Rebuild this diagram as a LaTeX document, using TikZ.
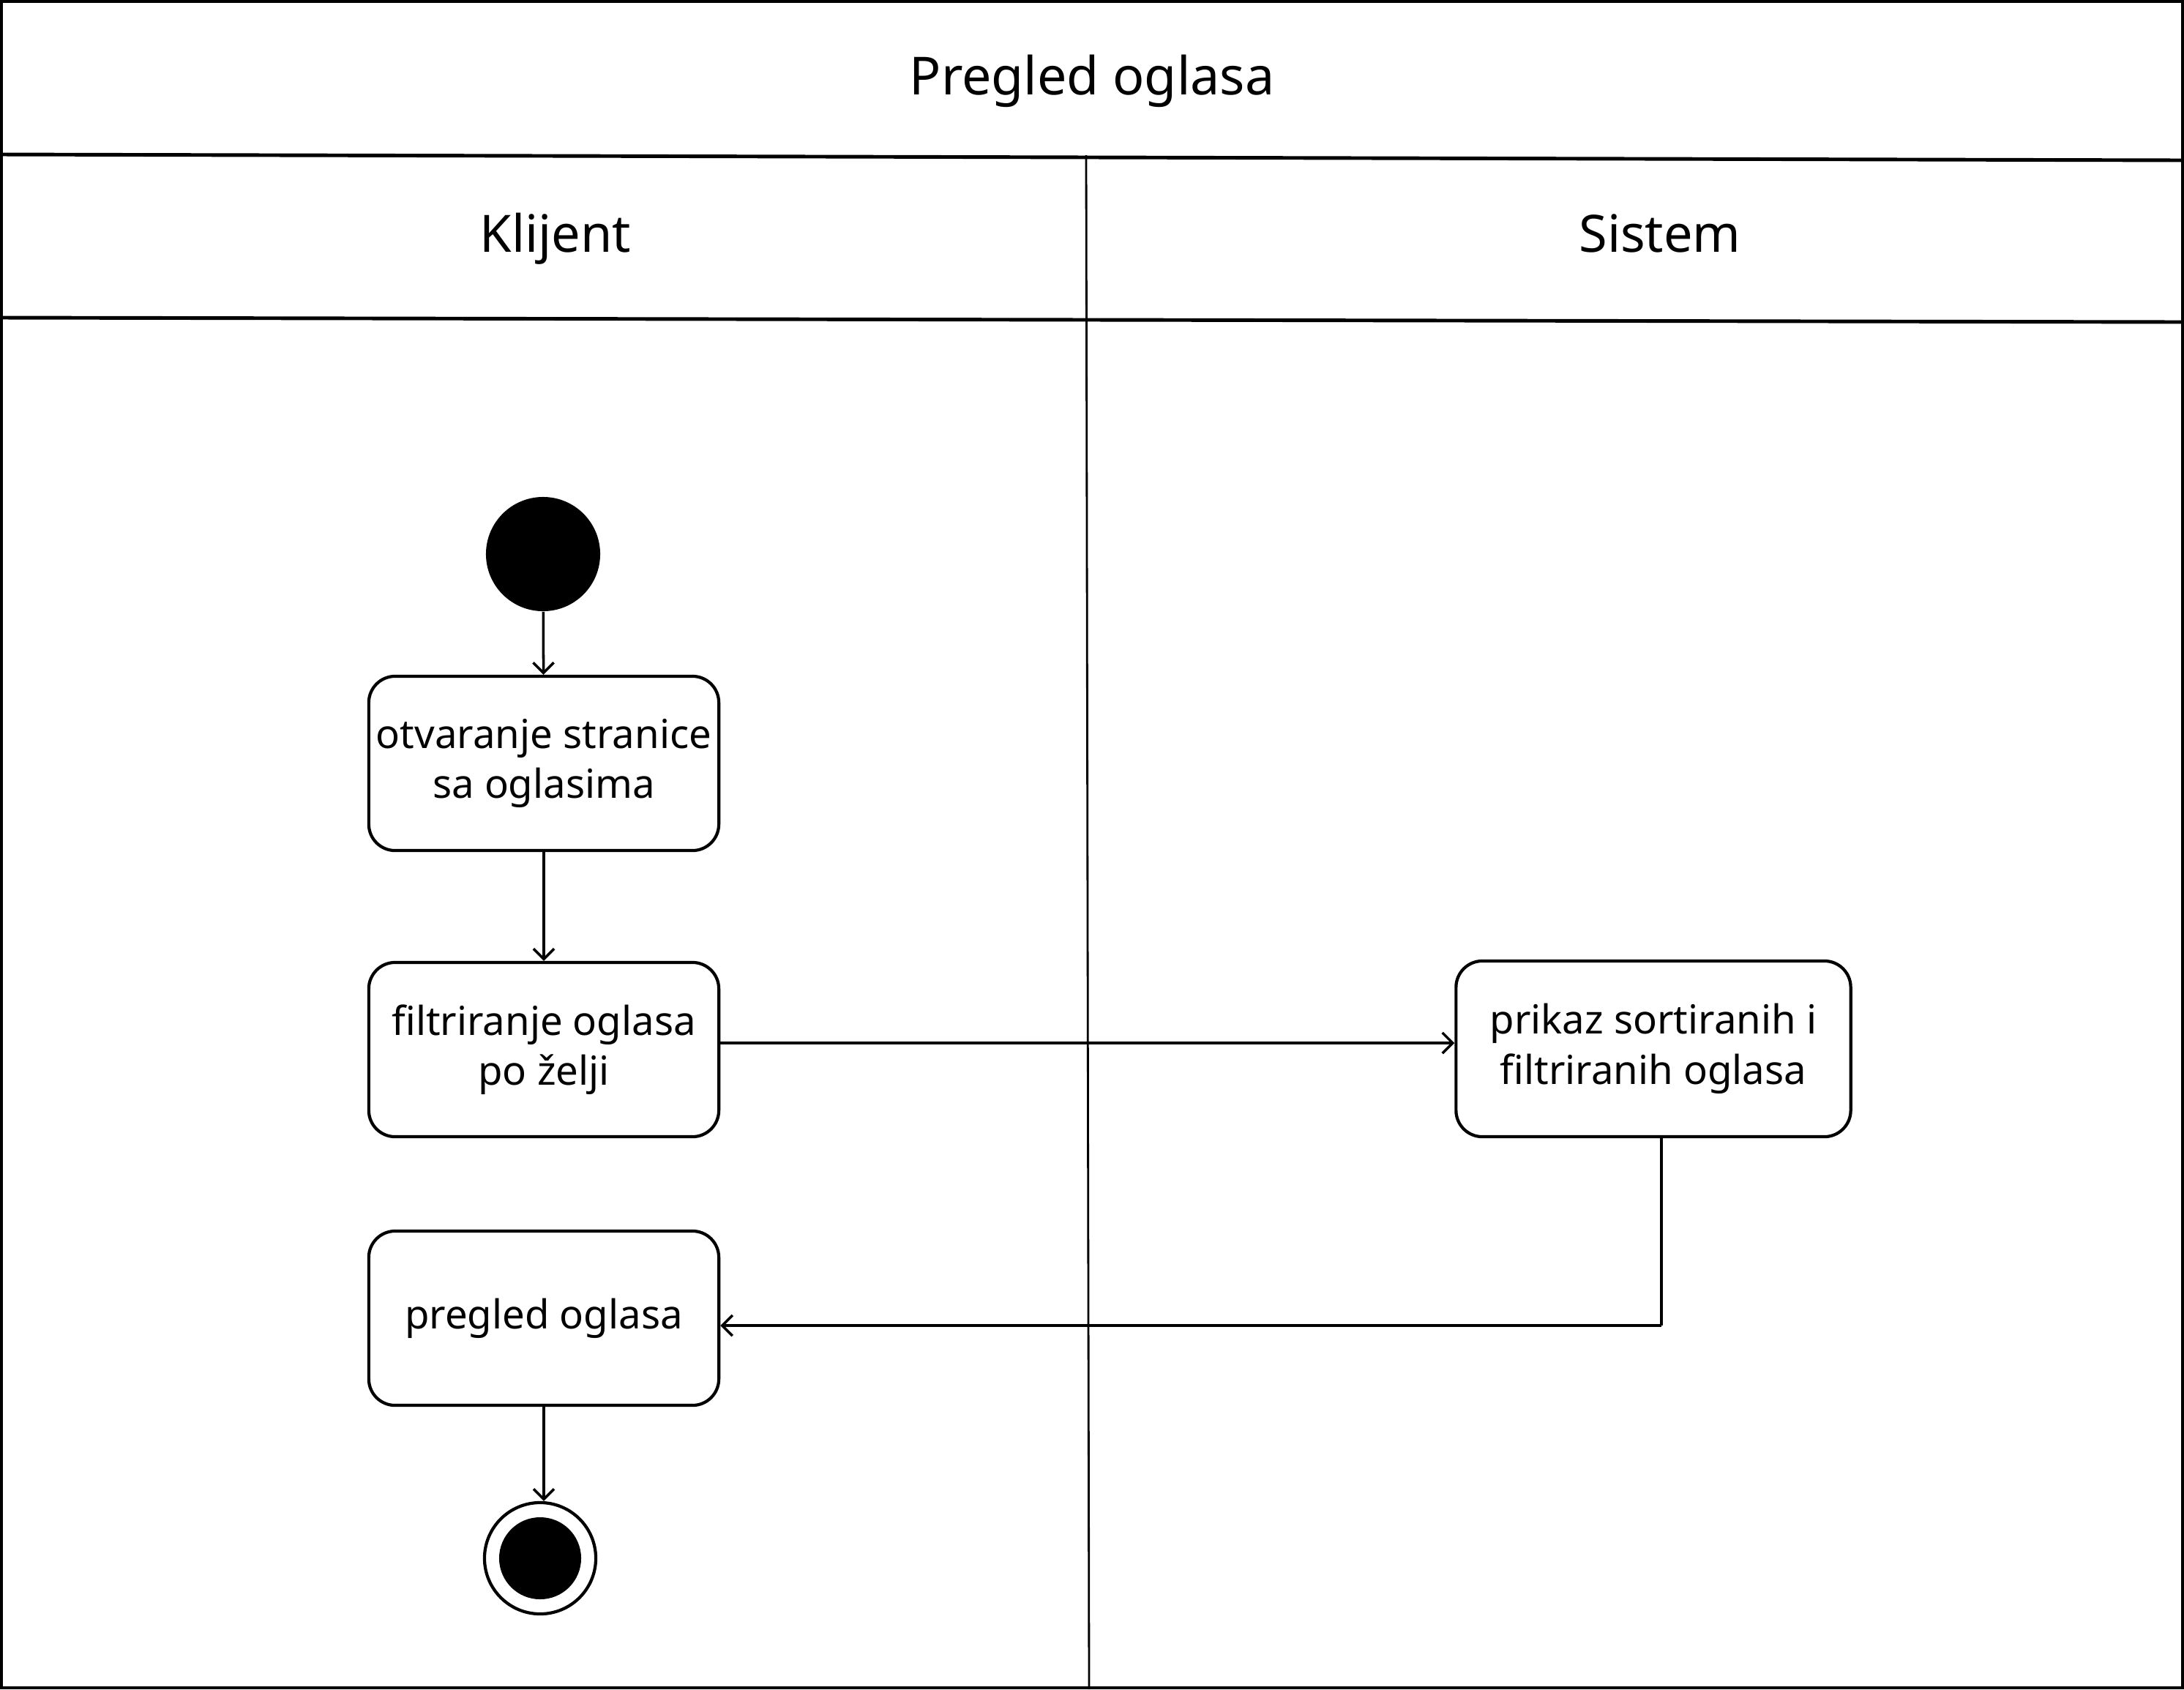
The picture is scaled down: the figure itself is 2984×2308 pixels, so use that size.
\documentclass[tikz,border=0pt]{standalone}
\usepackage{fontspec}
\setmainfont{Noto Sans}
\usetikzlibrary{arrows.meta}
\begin{document}
\begin{tikzpicture}[x=0.01cm,y=-0.01cm,
  act/.style={draw, line width=1.2pt, rounded corners=0.36cm, minimum width=4.78cm, minimum height=2.38cm, align=center, font=\fontsize{15.5}{19.5}\selectfont, inner sep=0pt},
  flow/.style={line width=1pt, -{Straight Barb[length=4pt,width=8pt]}},
  lanelabel/.style={font=\fontsize{20}{24}\selectfont, anchor=base},
  frame/.style={line width=1.4pt},
  divider/.style={line width=0.8pt}]
\useasboundingbox (0,0) rectangle (2984,2308);
% frame and lanes
\draw[frame] (2,2) rectangle (2982,2306);
\draw[frame] (0,211) -- (2984,219);
\draw[frame] (0,434) -- (2984,440);
\draw[divider] (1484,212) -- (1488,2308);
\node[lanelabel, font=\fontsize{20.4}{24}\selectfont] (title) at (1492,129) {Pregled oglasa};
\node[lanelabel] (klijent) at (759,344) {Klijent};
\node[lanelabel] (sistem) at (2268,344) {Sistem};
% nodes
\node[circle, fill, minimum size=1.56cm, inner sep=0pt] (start) at (742,757) {};
\node[act] (box1) at (743,1043) {otvaranje stranice\\sa oglasima};
\node[act] (box2) at (743,1434) {filtriranje oglasa\\po želji};
\node[act] (box3) at (743,1801) {pregled oglasa};
\node[act, minimum width=5.39cm, minimum height=2.40cm] (box4) at (2259,1433) {prikaz sortiranih i\\filtriranih oglasa};
\node[circle, draw, line width=1.2pt, minimum size=1.52cm, inner sep=0pt] (end) at (738,2129) {};
\node[circle, fill, minimum size=1.12cm, inner sep=0pt] (endin) at (end) {};
% connectors
\coordinate (h1) at (0,1425);
\coordinate (turn) at (2270,1811);
\draw[flow] (start) -- (box1);
\draw[flow] (box1) -- (box2);
\draw[flow] (box2.east |- h1) -- (box4.west |- h1);
\draw[line width=1pt] (box4.south -| turn) -- (turn);
\draw[flow] (turn) -- (box3.east |- turn);
\draw[flow] (box3.south) -- (box3.south |- end.north);
\end{tikzpicture}
\end{document}
